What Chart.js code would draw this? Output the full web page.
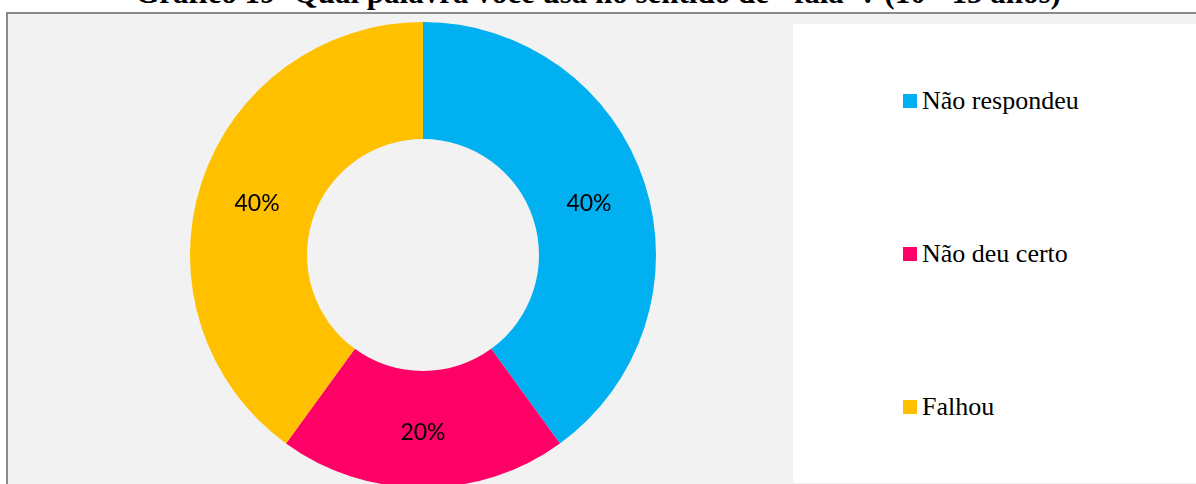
<!DOCTYPE html>
<html lang="pt">
<head>
<meta charset="utf-8">
<script src="https://cdn.jsdelivr.net/npm/chart.js@4.4.0/dist/chart.umd.min.js"></script>
<style>
    body { margin: 0; width: 1196px; height: 484px; overflow: hidden; background: #fff; position: relative; }
    #title {
        position: absolute; left: 0; top: -25px; width: 1196px; text-align: center;
        font: bold 31px "Liberation Serif", "Times New Roman", serif; color: #000; white-space: nowrap;
    }
    #frame {
        position: absolute; left: 6px; top: 12px; width: 1210px; height: 500px;
        border: 2px solid #8a8a8a; background: #f2f2f2;
    }
    #legend {
        position: absolute; left: 785px; top: 10px; width: 420px; height: 459px; background: #fff;
        display: flex; flex-direction: column; justify-content: space-around;
        box-sizing: border-box; padding-left: 110px;
    }
    .item { display: flex; align-items: center; font: 26px "Liberation Serif", "Times New Roman", serif; color: #000; line-height: 30px; }
    .item span.box { width: 14px; height: 14px; margin-right: 5px; display: inline-block; }
    #wrap { position: absolute; left: 188px; top: 20px; width: 470px; height: 470px; }
</style>
</head>
<body>
<div id="title">Gráfico 19- Qual palavra você usa no sentido de "fala"? (10 - 15 anos)</div>
<div id="frame"><div id="legend"></div></div>
<div id="wrap"><canvas id="chart"></canvas></div>
<script>
const labels = ['Não respondeu', 'Não deu certo', 'Falhou'];
const values = [40, 20, 40];
const colors = ['#00b0f0', '#ff0066', '#ffc000'];

// legenda em HTML
const legend = document.getElementById('legend');
labels.forEach((l, i) => {
    legend.innerHTML += `<div class="item"><span class="box" style="background:${colors[i]}"></span>${l}</div>`;
});

// rótulos de porcentagem dentro das fatias
const pctLabels = {
    id: 'pctLabels',
    afterDatasetsDraw(chart) {
        const ctx = chart.ctx;
        const total = values.reduce((a, b) => a + b, 0);
        ctx.save();
        ctx.font = '23px Lato, "Open Sans", sans-serif';
        ctx.fillStyle = '#000';
        ctx.textAlign = 'center';
        ctx.textBaseline = 'middle';
        chart.getDatasetMeta(0).data.forEach((arc, i) => {
            const p = arc.tooltipPosition();
            ctx.fillText(Math.round(values[i] / total * 100) + '%', p.x, p.y + 3);
        });
        ctx.restore();
    }
};

new Chart(document.getElementById('chart'), {
    type: 'doughnut',
    data: {
        labels: labels,
        datasets: [{
            data: values,
            backgroundColor: colors,
            borderWidth: 0
        }]
    },
    options: {
        responsive: true,
        maintainAspectRatio: false,
        animation: false,
        radius: 233,
        cutout: 117,
        layout: { padding: 0 },
        plugins: { legend: { display: false }, tooltip: { enabled: false } }
    },
    plugins: [pctLabels]
});
</script>
</body>
</html>
